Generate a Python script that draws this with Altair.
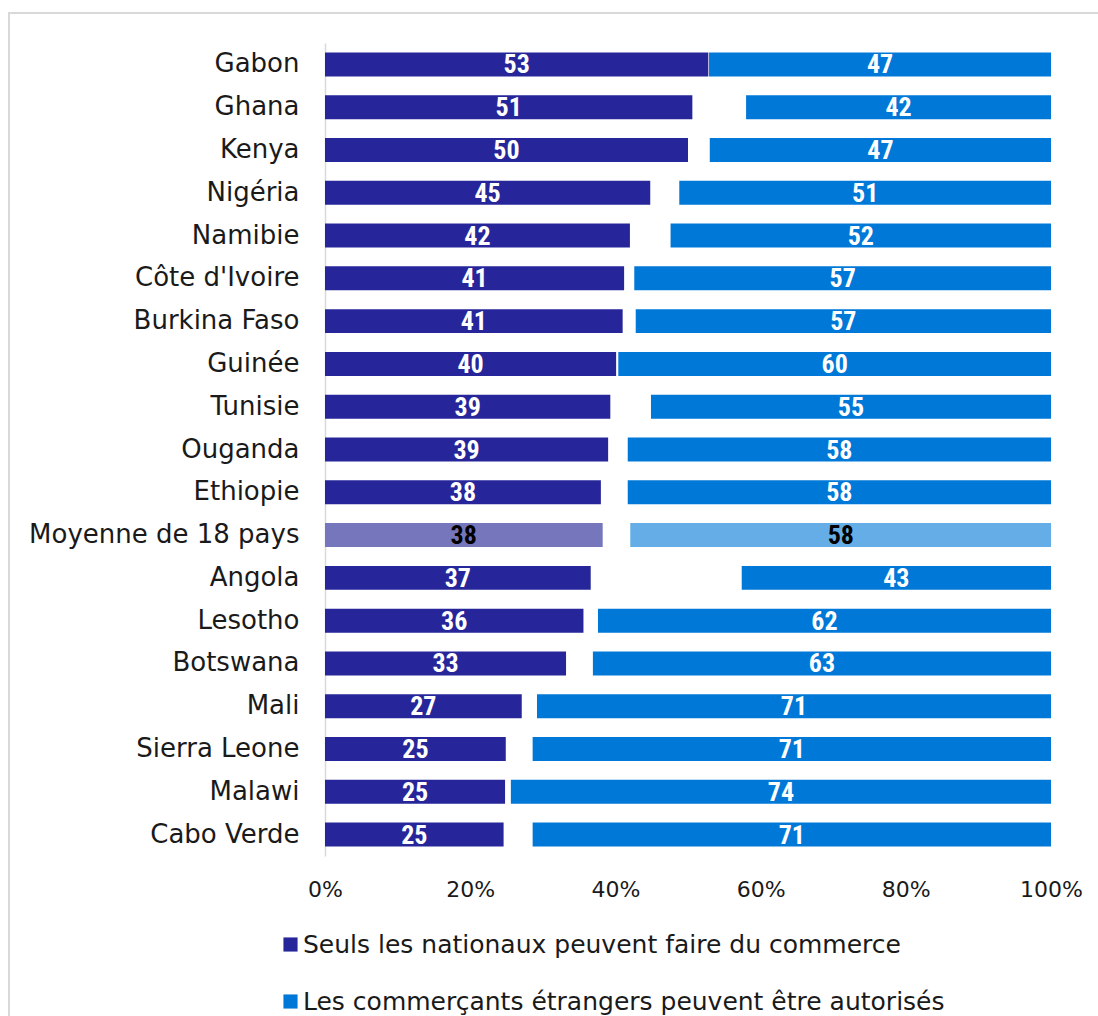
import altair as alt
import pandas as pd

countries = ["Gabon", "Ghana", "Kenya", "Nigéria", "Namibie", "Côte d'Ivoire",
             "Burkina Faso", "Guinée", "Tunisie", "Ouganda", "Ethiopie",
             "Moyenne de 18 pays", "Angola", "Lesotho", "Botswana", "Mali",
             "Sierra Leone", "Malawi", "Cabo Verde"]
national = [52.8, 50.6, 50.0, 44.8, 42.0, 41.2, 41.0, 40.1, 39.3, 39.0, 38.0,
            38.2, 36.6, 35.6, 33.2, 27.1, 24.9, 24.8, 24.6]
foreign = [47.1, 42.0, 47.0, 51.2, 52.4, 57.4, 57.2, 59.6, 55.1, 58.3, 58.3,
           57.9, 42.6, 62.4, 63.1, 70.8, 71.4, 74.4, 71.4]
series = ["Seuls les nationaux peuvent faire du commerce",
          "Les commerçants étrangers peuvent être autorisés"]
x_ticks = [0, 20, 40, 60, 80, 100]
AVG = "Moyenne de 18 pays"

rows = []
for c, n, f in zip(countries, national, foreign):
    rows.append({"country": c, "series": series[0], "start": 0, "end": n, "value": n})
    rows.append({"country": c, "series": series[1], "start": 100 - f, "end": 100, "value": f})
df = pd.DataFrame(rows)
df["mid"] = (df["start"] + df["end"]) / 2

DARK = "#26269A"
LIGHT = "#0078D7"
HATCH_DARK = "#7676bd"
HATCH_LIGHT = "#64ade6"
FONT = "DejaVu Sans"
NUM_FONT = "Liberation Sans Narrow, Roboto Condensed, Liberation Sans"

W, H = 726, 813

base = alt.Chart(df)

y_enc = alt.Y("country:N", sort=countries, title=None,
              scale=alt.Scale(paddingInner=0.44, paddingOuter=0.22),
              axis=alt.Axis(domain=True, domainColor="#d9d9d9", domainWidth=1.5,
                            ticks=False, labelPadding=26, labelFontSize=26,
                            labelFont=FONT, labelColor="#1a1a1a", labelLimit=400))
x_enc = alt.X("start:Q", title=None,
              scale=alt.Scale(domain=[0, 100], nice=False),
              axis=alt.Axis(values=x_ticks, labelExpr="datum.value + '%'",
                            domain=False, ticks=False, grid=False,
                            labelFlush=False, labelOverlap=False,
                            labelPadding=23, labelFontSize=22, labelFont=FONT,
                            labelColor="#1a1a1a"))

bars = base.mark_bar().encode(
    y=y_enc,
    x=x_enc,
    x2="end:Q",
    color=alt.Color("series:N", sort=series,
                    scale=alt.Scale(domain=series, range=[DARK, LIGHT]),
                    legend=alt.Legend(title=None, orient="none", legendX=-47,
                                      legendY=889, direction="vertical",
                                      symbolType="square", symbolSize=200,
                                      symbolStrokeWidth=0, labelFontSize=25,
                                      labelFont=FONT, labelColor="#1a1a1a",
                                      labelOffset=0, rowPadding=31,
                                      labelLimit=800)),
)

avg_bars = base.transform_filter(alt.datum.country == AVG).mark_bar().encode(
    y=alt.Y("country:N", sort=countries),
    x="start:Q",
    x2="end:Q",
    color=alt.condition(alt.datum.series == series[0],
                        alt.value(HATCH_DARK), alt.value(HATCH_LIGHT)),
)

labels = base.mark_text(font=NUM_FONT, fontWeight="bold", fontSize=26,
                        baseline="middle", dy=1).encode(
    y=alt.Y("country:N", sort=countries),
    x="mid:Q",
    text=alt.Text("value:Q", format=".0f"),
    color=alt.condition(alt.datum.country == AVG,
                        alt.value("black"), alt.value("white")),
)

frame = alt.Chart(pd.DataFrame({"k": [0]})).mark_rect(
    fill="transparent", stroke="#d9d9d9", strokeWidth=2).encode(
    x=alt.value(-316), x2=alt.value(W + 100),
    y=alt.value(-30), y2=alt.value(H + 300),
)

chart = alt.layer(frame, bars, avg_bars, labels).properties(
    width=W, height=H,
    autosize=alt.AutoSizeParams(type="none"),
    padding={"left": 325, "top": 43, "right": 47, "bottom": 160},
).configure(background="white").configure_view(stroke=None, strokeWidth=0)

chart.save("out.html", embed_options={"renderer": "svg", "actions": False})
